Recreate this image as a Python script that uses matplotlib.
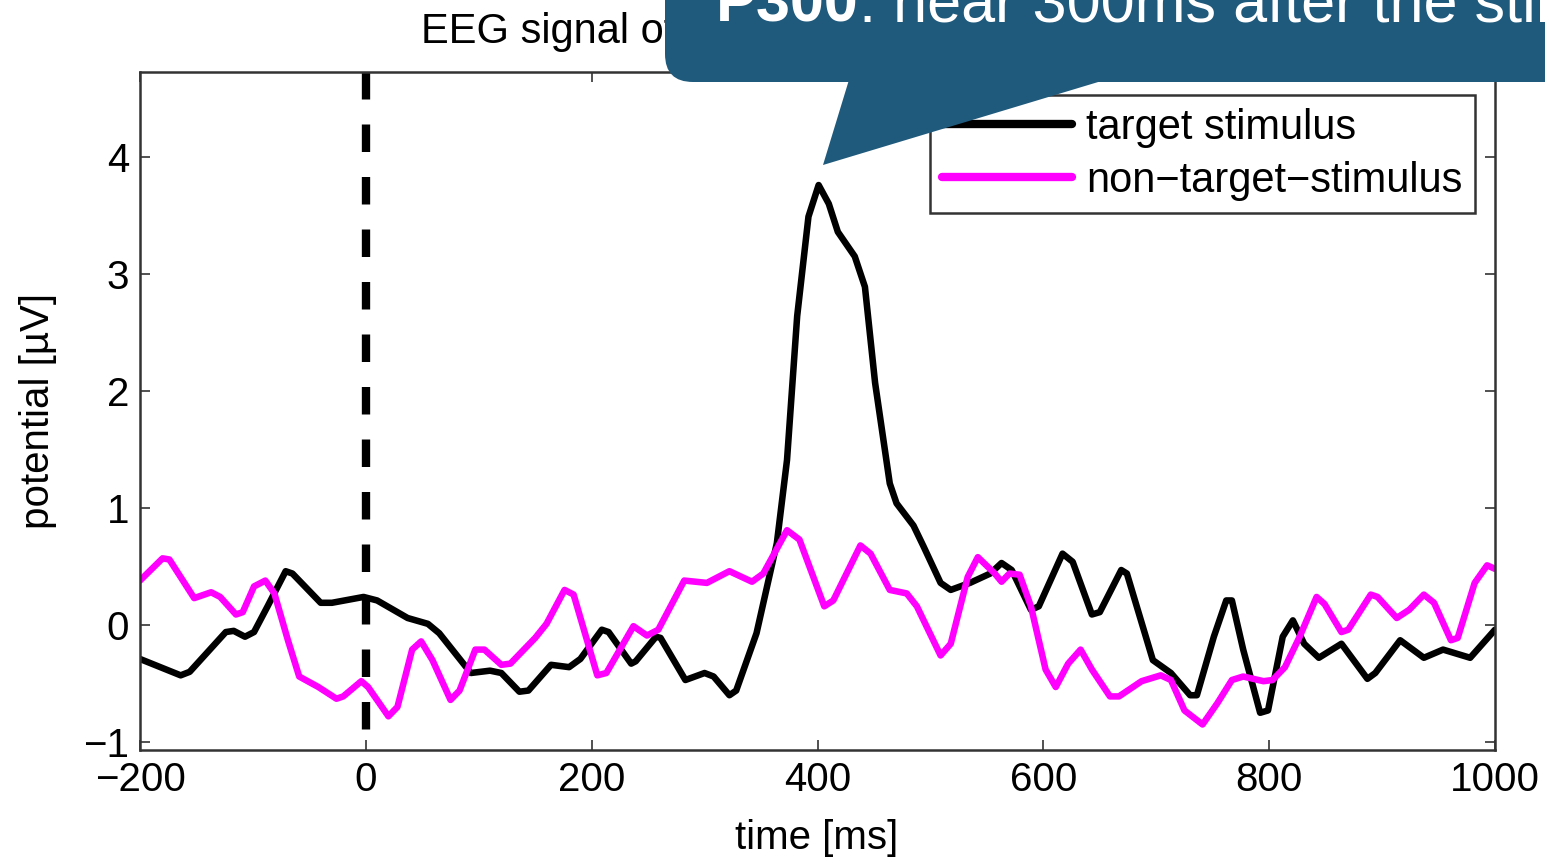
import matplotlib.pyplot as plt
from matplotlib.patches import FancyBboxPatch, Polygon
from matplotlib.transforms import IdentityTransform
from matplotlib.text import Annotation

plt.rcParams['font.family'] = ['Liberation Sans', 'DejaVu Sans']

# target stimulus (black)
t_target = [-200, -164, -156, -124, -117, -107, -99, -87, -71, -65, -40, -30, -2, 10, 37, 55,
            65, 93, 110, 120, 136, 144, 164, 180, 190, 209, 215, 235, 239, 257, 261, 283, 300,
            308, 322, 328, 346, 364, 373, 382, 392, 401, 410, 418, 433, 442, 451, 464, 470,
            485, 494, 509, 518, 535, 553, 563, 572, 589, 596, 617, 626, 643, 650, 669, 674,
            697, 713, 730, 736, 751, 762, 767, 777, 792, 799, 812, 821, 831, 844, 864, 887,
            894, 916, 937, 954, 978, 1000]
v_target = [-0.29, -0.43, -0.40, -0.06, -0.05, -0.10, -0.06, 0.16, 0.46, 0.44, 0.19, 0.19,
            0.24, 0.21, 0.06, 0.01, -0.07, -0.41, -0.39, -0.41, -0.57, -0.56, -0.34, -0.36,
            -0.29, -0.04, -0.06, -0.33, -0.31, -0.10, -0.11, -0.47, -0.41, -0.44, -0.60, -0.56,
            -0.07, 0.70, 1.41, 2.64, 3.49, 3.76, 3.60, 3.36, 3.15, 2.89, 2.07, 1.21, 1.04,
            0.85, 0.67, 0.36, 0.30, 0.36, 0.44, 0.53, 0.47, 0.13, 0.16, 0.61, 0.54, 0.09, 0.11,
            0.47, 0.44, -0.30, -0.41, -0.60, -0.60, -0.10, 0.21, 0.21, -0.21, -0.75, -0.73,
            -0.10, 0.04, -0.16, -0.28, -0.16, -0.46, -0.41, -0.13, -0.28, -0.21, -0.28, -0.04]

# non-target stimulus (magenta)
t_nontarget = [-200, -180, -174, -152, -137, -129, -115, -109, -99, -89, -81, -69, -59, -42,
               -26, -20, -4, 2, 20, 28, 41, 49, 59, 75, 83, 97, 105, 120, 128, 150, 160, 176,
               184, 205, 213, 237, 249, 259, 282, 302, 322, 342, 352, 373, 384, 406, 414, 438,
               447, 464, 479, 488, 509, 518, 533, 542, 557, 563, 570, 579, 589, 602, 611, 622,
               633, 643, 659, 667, 687, 704, 713, 725, 741, 754, 767, 777, 795, 803, 814, 827,
               842, 849, 864, 870, 890, 896, 913, 924, 937, 946, 961, 967, 982, 993, 1000]
v_nontarget = [0.38, 0.57, 0.56, 0.23, 0.28, 0.24, 0.09, 0.11, 0.33, 0.38, 0.27, -0.13, -0.44,
               -0.53, -0.63, -0.61, -0.48, -0.53, -0.78, -0.70, -0.21, -0.14, -0.30, -0.64,
               -0.56, -0.21, -0.21, -0.34, -0.33, -0.11, 0.01, 0.30, 0.26, -0.43, -0.41, -0.01,
               -0.09, -0.04, 0.38, 0.36, 0.46, 0.37, 0.44, 0.81, 0.73, 0.16, 0.21, 0.68, 0.61,
               0.30, 0.27, 0.16, -0.26, -0.16, 0.41, 0.58, 0.44, 0.37, 0.44, 0.43, 0.16, -0.38,
               -0.53, -0.33, -0.21, -0.38, -0.61, -0.61, -0.48, -0.43, -0.47, -0.73, -0.85,
               -0.67, -0.47, -0.44, -0.48, -0.47, -0.36, -0.10, 0.24, 0.18, -0.06, -0.04, 0.26,
               0.24, 0.06, 0.13, 0.26, 0.19, -0.13, -0.11, 0.36, 0.51, 0.48]

x_ticks = [-200, 0, 200, 400, 600, 800, 1000]
y_ticks = [-1, 0, 1, 2, 3, 4]

W, H = 1545, 860
FS = 29
fig = plt.figure(figsize=(W / 100, H / 100), dpi=100)
ax = fig.add_axes([140 / W, 1 - 750 / H, 1355 / W, 678 / H])

ax.plot(t_target, v_target, color='black', lw=4.7, solid_joinstyle='round',
        solid_capstyle='round', label='target stimulus')
ax.plot(t_nontarget, v_nontarget, color='#ff00ff', lw=4.7, solid_joinstyle='round',
        solid_capstyle='round', label='non\u2212target\u2212stimulus')
ax.plot([0, 0], [4.726, -1.068], color='black', lw=6, dashes=(3.3, 3.0),
        dash_capstyle='butt')

ax.set_xlim(-200, 1000)
ax.set_ylim(-1.068, 4.726)
ax.set_xticks(x_ticks)
ax.set_yticks(y_ticks)
ax.tick_params(direction='in', length=7, width=1.2, top=True, right=True,
               labelsize=FS, pad=8, color='#333333')
for s in ax.spines.values():
    s.set_linewidth(1.8)
    s.set_color('#333333')

leg = ax.legend(loc='upper right', bbox_to_anchor=(1475 / W, 1 - 95 / H),
                bbox_transform=fig.transFigure, borderaxespad=0, fontsize=30,
                fancybox=False, framealpha=1, edgecolor='#333333',
                handlelength=3.1, handletextpad=0.35, labelspacing=0.32,
                borderpad=0.3)
leg.get_frame().set_linewidth(1.8)
for ln in leg.get_lines():
    ln.set_linewidth(6)

fig.text(421 / W, 1 - 43 / H, 'EEG signal of channel Cz', fontsize=30, va='baseline')
fig.text(817 / W, 22 / H, 'time [ms]', fontsize=FS, ha='center', va='center')
fig.text(38 / W, 1 - 411 / H, 'potential [\u00b5V]', fontsize=FS, ha='center',
         va='center', rotation=90)

# speech-bubble callout on top of everything
blue = '#1f5a7c'
box = FancyBboxPatch((665, H - 82), 1000, 300, boxstyle='round,pad=0,rounding_size=28',
                     transform=IdentityTransform(), facecolor=blue, edgecolor='none',
                     zorder=10)
tail = Polygon([(852, H - 70), (823, H - 165), (1138, H - 70)], closed=True,
               transform=IdentityTransform(), facecolor=blue, edgecolor='none', zorder=10)
fig.add_artist(box)
fig.add_artist(tail)

t1 = fig.text(716 / W, 1 - 22 / H, 'P300', fontsize=44, fontweight='bold', color='white',
              va='baseline', zorder=11)
t2 = Annotation(': near 300ms after the stimulus', xy=(1, 0), xycoords=t1,
                fontsize=44, color='white', va='bottom', ha='left', zorder=11)
fig.add_artist(t2)

fig.savefig('out.png', dpi=100)
